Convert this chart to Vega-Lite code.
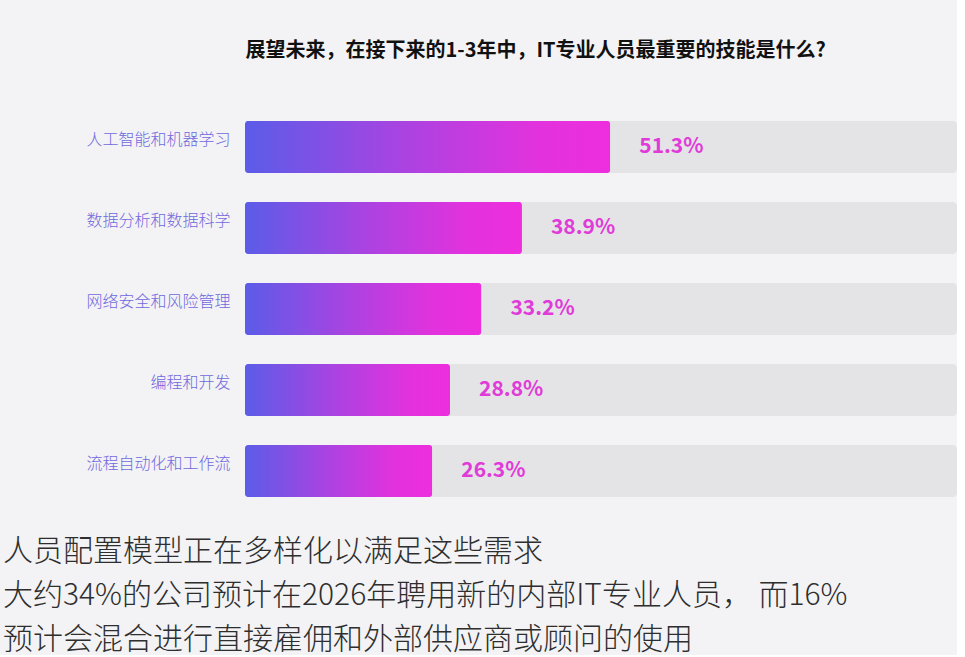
{
  "$schema": "https://vega.github.io/schema/vega-lite/v6.json",
  "background": "#F3F3F5",
  "padding": {"left": 3, "top": 40, "right": 0, "bottom": 0},
  "config": {"view": {"stroke": null}, "font": "Noto Sans CJK SC"},
  "width": 712,
  "height": 402,
  "title": {
    "text": ["人员配置模型正在多样化以满足这些需求", "大约34%的公司预计在2026年聘用新的内部IT专业人员， 而16%", "预计会混合进行直接雇佣和外部供应商或顾问的使用"],
    "orient": "bottom",
    "anchor": "start",
    "frame": "bounds",
    "fontSize": 30,
    "fontWeight": 300,
    "lineHeight": 44,
    "color": "#2E2E2E",
    "offset": 27
  },
  "data": {
    "values": [
      {"skill": "人工智能和机器学习", "pct": 0.513},
      {"skill": "数据分析和数据科学", "pct": 0.389},
      {"skill": "网络安全和风险管理", "pct": 0.332},
      {"skill": "编程和开发", "pct": 0.288},
      {"skill": "流程自动化和工作流", "pct": 0.263}
    ]
  },
  "encoding": {
    "y": {
      "field": "skill",
      "type": "nominal",
      "sort": null,
      "scale": {"paddingInner": 0.358, "paddingOuter": 0.16},
      "axis": {
        "title": null,
        "domain": false,
        "ticks": false,
        "labelPadding": 15,
        "labelFontSize": 16,
        "labelColor": "#7068DE",
        "labelFontWeight": 300,
        "labelOffset": -7,
        "minExtent": 242
      }
    }
  },
  "layer": [
    {
      "mark": {"type": "bar", "color": "#E4E4E6", "cornerRadius": 4},
      "encoding": {
        "x": {
          "datum": 1,
          "type": "quantitative",
          "scale": {"domain": [0, 1], "nice": false},
          "axis": {
            "orient": "top",
            "title": "展望未来，在接下来的1-3年中，IT专业人员最重要的技能是什么?",
            "titleAnchor": "start",
            "titleFontSize": 20,
            "titleFontWeight": "bold",
            "titleColor": "#111111",
            "titlePadding": 48,
            "labels": false,
            "ticks": false,
            "domain": false,
            "grid": false
          }
        }
      }
    },
    {
      "mark": {
        "type": "bar",
        "cornerRadius": 3,
        "color": {
          "gradient": "linear",
          "x1": 0, "x2": 1, "y1": 0, "y2": 0,
          "stops": [
            {"offset": 0, "color": "#5B5CE8"},
            {"offset": 0.45, "color": "#AD42E1"},
            {"offset": 0.8, "color": "#E232DD"},
            {"offset": 1, "color": "#EE2EDE"}
          ]
        }
      },
      "encoding": {
        "x": {"field": "pct", "type": "quantitative"}
      }
    },
    {
      "mark": {"type": "text", "align": "left", "baseline": "middle", "dx": 29, "fontSize": 21, "fontWeight": "bold", "color": "#E03AD8"},
      "encoding": {
        "x": {"field": "pct", "type": "quantitative"},
        "text": {"field": "pct", "format": ".1%"}
      }
    }
  ]
}
